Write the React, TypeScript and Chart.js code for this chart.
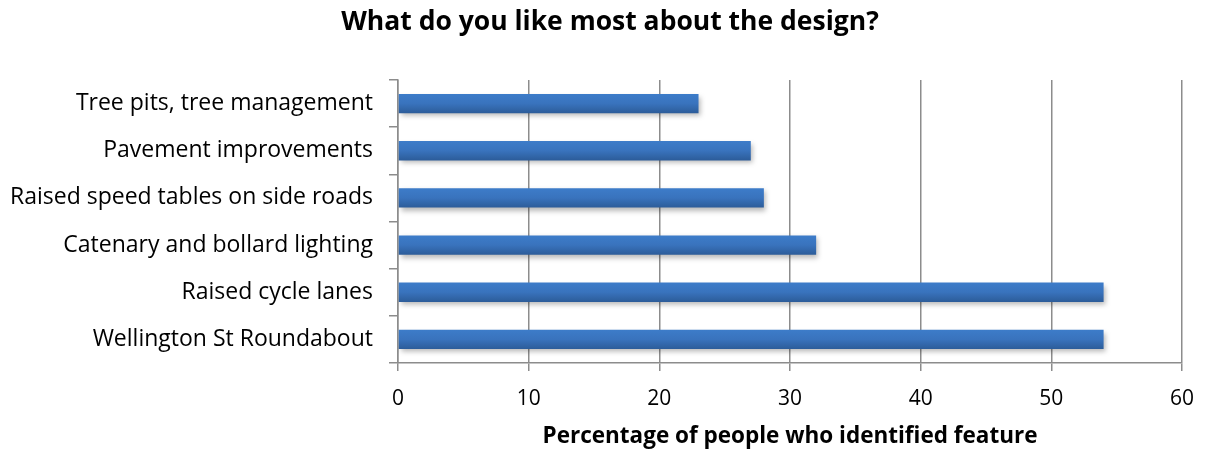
import React, { useEffect, useRef } from "react";
import { Chart, registerables } from "chart.js";

Chart.register(...registerables);

const categories = [
  "Tree pits, tree management",
  "Pavement improvements",
  "Raised speed tables on side roads",
  "Catenary and bollard lighting",
  "Raised cycle lanes",
  "Wellington St Roundabout",
];
const values = [23, 27, 28, 32, 54, 54];
const xTicks = [0, 10, 20, 30, 40, 50, 60];
const titleText = "What do you like most about the design?";
const xTitle = "Percentage of people who identified feature";

const FONT = "'Open Sans', Lato, sans-serif";
const BAR_PCT = 0.41;

const shadowPlugin = {
  id: "barShadow",
  beforeDatasetDraw(chart: any) {
    const ctx = chart.ctx;
    ctx.save();
    ctx.shadowColor = "rgba(0,0,0,0.28)";
    ctx.shadowBlur = 5;
    ctx.shadowOffsetX = 2;
    ctx.shadowOffsetY = 3;
  },
  afterDatasetDraw(chart: any) {
    chart.ctx.restore();
  },
};

const titlePlugin = {
  id: "pageTitle",
  afterDraw(chart: any) {
    const ctx = chart.ctx;
    ctx.save();
    ctx.font = `bold 26.5px ${FONT}`;
    ctx.fillStyle = "#000";
    ctx.textAlign = "center";
    ctx.textBaseline = "alphabetic";
    ctx.fillText(titleText, 610, 30);
    ctx.restore();
  },
};

export default function App() {
  const ref = useRef<HTMLCanvasElement | null>(null);
  useEffect(() => {
    if (!ref.current) return;
    const chart = new Chart(ref.current, {
      type: "bar",
      data: {
        labels: categories,
        datasets: [
          {
            data: values,
            barPercentage: BAR_PCT,
            categoryPercentage: 1,
            borderWidth: 0,
            backgroundColor: (c: any) => {
              const ch = c.chart;
              const ys = ch.scales?.y;
              if (!ys || !ch.chartArea) return "#3a74bd";
              const yc = ys.getPixelForValue(c.dataIndex);
              const h = (ys.height / categories.length) * BAR_PCT / 2;
              const g = ch.ctx.createLinearGradient(0, yc - h, 0, yc + h);
              g.addColorStop(0, "#3d7cc9");
              g.addColorStop(0.5, "#3973bd");
              g.addColorStop(1, "#2c5c99");
              return g;
            },
          },
        ],
      },
      options: {
        indexAxis: "y",
        animation: false,
        responsive: false,
        maintainAspectRatio: false,
        layout: { padding: { top: 80, left: 0, right: 27, bottom: 0 } },
        plugins: {
          legend: { display: false },
          tooltip: { enabled: false },
          title: { display: false },
        },
        scales: {
          x: {
            min: 0,
            max: 60,
            afterBuildTicks: (s: any) => {
              s.ticks = xTicks.map((v) => ({ value: v }));
            },
            afterFit: (s: any) => {
              s.height = 89;
              s.paddingLeft = 0;
              s.paddingRight = 0;
            },
            grid: {
              color: "#8c8c8c",
              lineWidth: 1.5,
              drawTicks: true,
              tickLength: 8,
            },
            border: { display: true, color: "#8c8c8c", width: 1.5 },
            ticks: {
              color: "#000",
              padding: 15,
              font: { family: FONT, size: 21 },
            },
            title: {
              display: true,
              text: xTitle,
              color: "#000",
              font: { family: FONT, size: 22.5, weight: "bold", lineHeight: 1.2 },
              padding: { top: 0, bottom: 2 },
            },
          },
          y: {
            afterFit: (s: any) => {
              s.width = 398;
              s.paddingTop = 0;
              s.paddingBottom = 0;
            },
            grid: {
              drawOnChartArea: false,
              drawTicks: true,
              tickLength: 9,
              color: "#8c8c8c",
              lineWidth: 1.5,
              offset: true,
            },
            border: { display: true, color: "#8c8c8c", width: 1.5 },
            ticks: {
              color: "#000",
              padding: 16,
              font: { family: FONT, size: 23 },
            },
          },
        },
      },
      plugins: [shadowPlugin, titlePlugin],
    } as any);
    return () => chart.destroy();
  }, []);
  return (
    <div style={{ position: "fixed", left: 0, top: 0, width: 1209, height: 452, background: "#fff" }}>
      <canvas ref={ref} width={1209} height={452} style={{ width: 1209, height: 452, display: "block" }} />
    </div>
  );
}
